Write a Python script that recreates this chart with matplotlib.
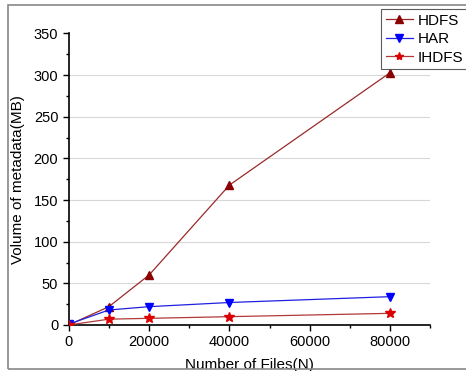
import matplotlib
matplotlib.use("Agg")
import matplotlib.pyplot as plt
from matplotlib.patches import Rectangle
from matplotlib.ticker import MultipleLocator

plt.rcParams['font.family'] = ['Liberation Sans', 'DejaVu Sans']

files = [0, 10000, 20000, 40000, 80000]
hdfs = [0, 22, 60, 168, 303]
har = [1, 18, 22, 27, 34]
ihdfs = [0, 7, 8, 10, 14]

fig = plt.figure(figsize=(4.66, 3.71), dpi=100)
ax = fig.add_axes([0.1474, 0.124, 0.7764, 0.786])

ax.plot(files, hdfs, color='#9a2a2a', lw=0.9, marker='^', ms=6,
        mfc='#8b0000', mec='#8b0000', label='HDFS', zorder=3)
ax.plot(files, har, color='#2020e0', lw=0.9, marker='v', ms=6,
        mfc='#0000ff', mec='#0000ff', label='HAR', zorder=3)
ax.plot(files, ihdfs, color='#b03a3a', lw=0.9, marker='*', ms=7,
        mfc='#dd0000', mec='#dd0000', label='IHDFS', zorder=3)

ax.set_xlim(0, 90000)
ax.set_ylim(0, 350)
ax.xaxis.set_major_locator(MultipleLocator(20000))
ax.xaxis.set_minor_locator(MultipleLocator(10000))
ax.yaxis.set_major_locator(MultipleLocator(50))
ax.yaxis.set_minor_locator(MultipleLocator(25))
for y in range(50, 301, 50):
    ax.axhline(y, color='#d8d8d8', lw=0.8, zorder=0)

for s in ['top', 'right']:
    ax.spines[s].set_visible(False)
for s in ['left', 'bottom']:
    ax.spines[s].set_linewidth(1.2)
ax.tick_params(which='major', direction='out', length=4, width=1, labelsize=10.5)
ax.tick_params(which='minor', direction='out', length=2.5, width=1)

ax.set_xlabel('Number of Files(N)', fontsize=11, labelpad=6)
ax.set_ylabel('Volume of metadata(MB)', fontsize=11, labelpad=6)

leg = fig.legend(loc='upper left', bbox_to_anchor=(381/466, 1 - 9/371),
                 fontsize=11, frameon=True, fancybox=False,
                 edgecolor='#333333', handlelength=1.8, handletextpad=0.3,
                 borderpad=0.3, labelspacing=0.3, borderaxespad=0,
                 markerscale=0.85)
leg.get_frame().set_linewidth(0.8)

fig.patches.append(Rectangle((8/466, 2/371), 1.0, 1 - 7/371, transform=fig.transFigure,
                             fill=False, edgecolor='#888888', lw=1.2))

fig.savefig('out.png', dpi=100)
